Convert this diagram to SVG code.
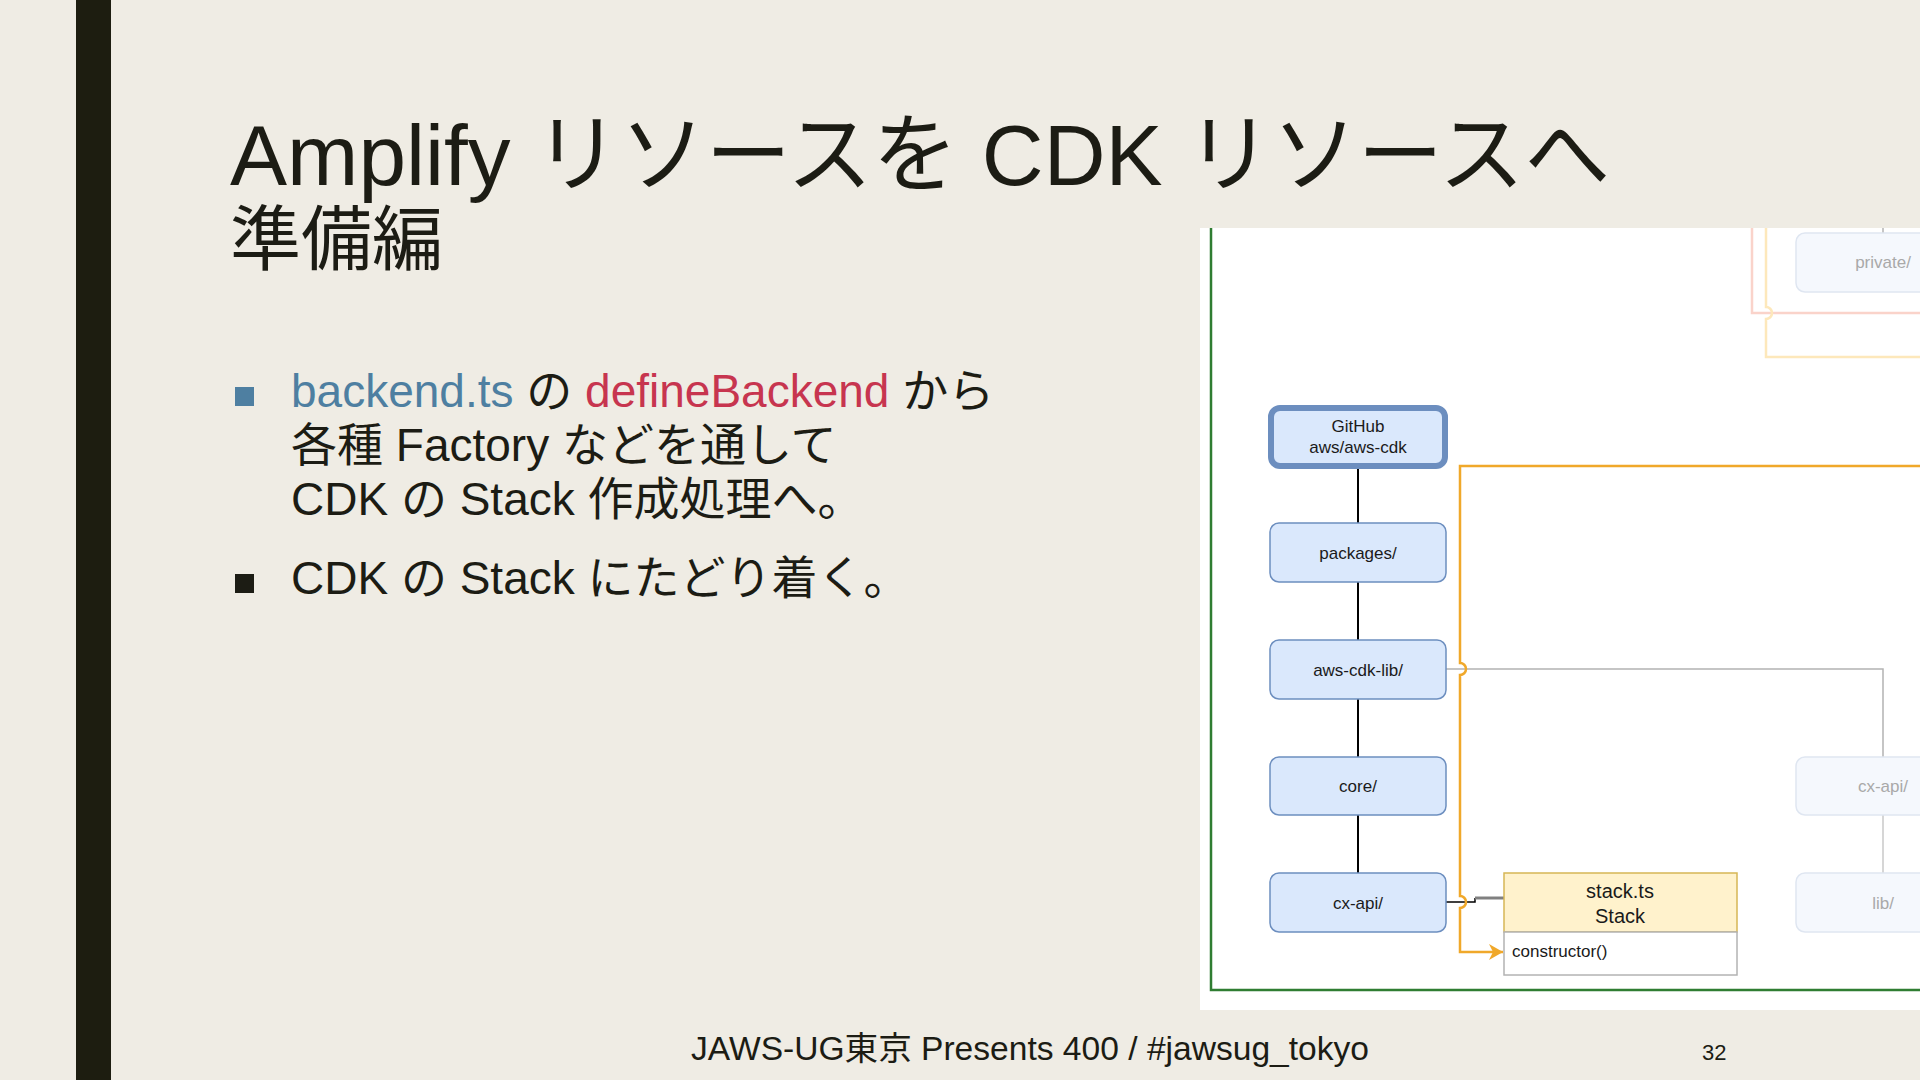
<svg xmlns="http://www.w3.org/2000/svg" width="1920" height="1080" viewBox="0 0 1920 1080">
  <defs>
    <style>
      .slide { font-family: "Liberation Sans", "Noto Sans CJK JP", sans-serif; fill: #1c1c14; }
      .node rect { fill: #dae8fc; stroke: #6c8ebf; stroke-width: 1.5; }
      .node text, .cls text { font-family: "Liberation Sans", Arial, sans-serif; font-size: 17px; fill: #1a1a1a; text-anchor: middle; }
      .faded rect { fill: #f5f8fd; stroke: #dfe6f1; stroke-width: 1.5; }
      .faded text { font-family: "Liberation Sans", Arial, sans-serif; font-size: 17px; fill: #a9a9a9; text-anchor: middle; }
      .tree { stroke: #000; stroke-width: 2; fill: none; }
      .grey { stroke: #b3b3b3; stroke-width: 1.5; fill: none; }
      .orange { stroke: #f0a82a; stroke-width: 2.5; fill: none; }
    </style>
    <marker id="arrowO" markerUnits="userSpaceOnUse" markerWidth="16" markerHeight="18" refX="15" refY="9" orient="auto">
      <path d="M1,1 L15,9 L1,17 L5,9 Z" fill="#f0a82a"/>
    </marker>
  </defs>

  <rect x="0" y="0" width="1920" height="1080" fill="#efece4"/>
  <rect x="76" y="0" width="35" height="1080" fill="#1d1d10"/>

  <!-- Title -->
  <text class="slide" x="230" y="185" font-size="86" textLength="1380" lengthAdjust="spacingAndGlyphs">Amplify リソースを CDK リソースへ</text>
  <text class="slide" x="230" y="264" font-size="71">準備編</text>

  <!-- Bullets -->
  <rect x="235" y="387" width="19" height="19" fill="#4e7fa1"/>
  <text class="slide" x="291" y="407" font-size="46"><tspan fill="#4e7fa1">backend.ts</tspan> の <tspan fill="#c7354f">defineBackend</tspan> から</text>
  <text class="slide" x="291" y="461" font-size="46">各種 Factory などを通して</text>
  <text class="slide" x="291" y="515" font-size="46">CDK の Stack 作成処理へ。</text>
  <rect x="235" y="574" width="19" height="19" fill="#1c1c14"/>
  <text class="slide" x="291" y="594" font-size="46">CDK の Stack にたどり着く。</text>

  <!-- Footer -->
  <text class="slide" x="691" y="1060" font-size="33" textLength="678" lengthAdjust="spacingAndGlyphs">JAWS-UG東京 Presents 400 / #jawsug_tokyo</text>
  <text class="slide" x="1702" y="1060" font-size="22">32</text>

  <!-- Diagram panel -->
  <rect x="1200" y="228" width="720" height="782" fill="#ffffff"/>
  <path d="M1211,228 V990 H1920" fill="none" stroke="#2f7d32" stroke-width="2.5"/>

  <g id="connectors">
    <path d="M1752,228 V313 H1920" fill="none" stroke="#fad3ca" stroke-width="2.5"/>
    <path d="M1766,228 V307 a6,6 0 0 1 0,12 V357 H1920" fill="none" stroke="#fde8bb" stroke-width="2.5"/>
    <path d="M1883,228 V233" class="grey"/>
    <path d="M1358,469 V523 M1358,582 V640 M1358,699 V757 M1358,815 V873" class="tree"/>
    <path d="M1446,669 H1883 V757" class="grey"/>
    <path d="M1883,815 V873" stroke="#c8c8c8" stroke-width="1.5" fill="none"/>
    <path d="M1446,902 H1475 V898" fill="none" stroke="#000" stroke-width="1.5"/>
    <path d="M1475,898 H1504" fill="none" stroke="#808080" stroke-width="3"/>
    <path d="M1920,466 H1460 V663 a6,6 0 0 1 0,12 V896 a6,6 0 0 1 0,12 V952 H1503" class="orange" marker-end="url(#arrowO)"/>
  </g>

  <g id="github" class="node">
    <rect x="1271" y="408" width="174" height="58" rx="9" style="stroke-width:6"/>
    <text x="1358" y="432">GitHub</text>
    <text x="1358" y="453">aws/aws-cdk</text>
  </g>
  <g id="packages" class="node">
    <rect x="1270" y="523" width="176" height="59" rx="9"/>
    <text x="1358" y="559">packages/</text>
  </g>
  <g id="aws-cdk-lib" class="node">
    <rect x="1270" y="640" width="176" height="59" rx="9"/>
    <text x="1358" y="676">aws-cdk-lib/</text>
  </g>
  <g id="core" class="node">
    <rect x="1270" y="757" width="176" height="58" rx="9"/>
    <text x="1358" y="792">core/</text>
  </g>
  <g id="cx-api" class="node">
    <rect x="1270" y="873" width="176" height="59" rx="9"/>
    <text x="1358" y="909">cx-api/</text>
  </g>

  <g id="stack" class="cls">
    <rect x="1504" y="873" width="233" height="59" fill="#fff2cc" stroke="#d6b656" stroke-width="1.5"/>
    <rect x="1504" y="932" width="233" height="43" fill="#ffffff" stroke="#b3b3b3" stroke-width="1.5"/>
    <text x="1620" y="898" style="font-size:20px">stack.ts</text>
    <text x="1620" y="923" style="font-size:20px">Stack</text>
    <text x="1512" y="957" style="text-anchor:start">constructor()</text>
  </g>

  <g id="private-faded" class="faded">
    <rect x="1796" y="233" width="176" height="59" rx="9"/>
    <text x="1883" y="268">private/</text>
  </g>
  <g id="cx-api-faded" class="faded">
    <rect x="1796" y="757" width="176" height="58" rx="9"/>
    <text x="1883" y="792">cx-api/</text>
  </g>
  <g id="lib-faded" class="faded">
    <rect x="1796" y="873" width="176" height="59" rx="9"/>
    <text x="1883" y="909">lib/</text>
  </g>

  <rect x="1920" y="0" width="10" height="1080" fill="#efece4"/>
</svg>
